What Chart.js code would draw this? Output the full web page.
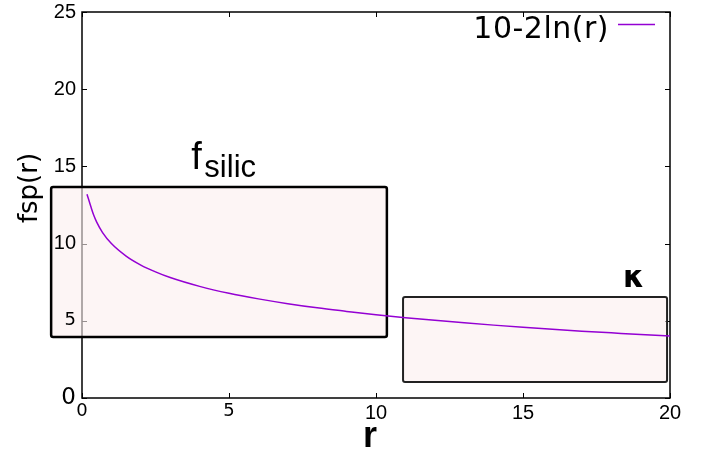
<!DOCTYPE html>
<html>
<head>
<meta charset="utf-8">
<script src="https://cdn.jsdelivr.net/npm/chart.js@4.4.1/dist/chart.umd.min.js"></script>
<style>
  body { margin: 0; background: #fff; }
  #wrap { width: 702px; height: 450px; }
</style>
</head>
<body>
<div id="wrap"><canvas id="myChart" width="702" height="450"></canvas></div>
<script>
// values
var rValues = [0.17, 0.3, 0.4, 0.5, 0.7, 1, 1.5, 2, 2.5, 3, 4, 5, 6, 7, 8, 9, 10, 11, 12, 13, 14, 15, 16, 17, 18, 19, 20];
var fspValues = [13.2, 12.4, 11.83, 11.39, 10.71, 10.0, 9.19, 8.61, 8.17, 7.8, 7.23, 6.78, 6.42, 6.11, 5.84, 5.61, 5.39, 5.2, 5.03, 4.87, 4.72, 4.58, 4.45, 4.33, 4.22, 4.11, 4.01];
var seriesLabel = '10-2ln(r)';
var xTicks = [0, 5, 10, 15, 20];
var yTicks = [0, 5, 10, 15, 20, 25];

// shaded boxes, in data units: [xFrom, xTo, yFrom, yTo]
var boxSilic = [-1.05, 10.37, 3.95, 13.67];
var boxKappa = [10.92, 19.9, 1.04, 6.54];

var purple = '#9400d3';
var sans = '"Liberation Sans", sans-serif';
var dejavu = '"DejaVu Sans", sans-serif';

function tickFont(v) {
    if (v === 0 || v === 5) return { family: dejavu, size: 18 };
    return { family: sans, size: 20 };
}

var decor = {
    id: 'decor',
    // frame, ticks and boxes go under the tick labels
    beforeDraw: function (chart) {
        var ctx = chart.ctx, a = chart.chartArea;
        var x = chart.scales.x, y = chart.scales.y;
        ctx.save();
        ctx.strokeStyle = '#000';
        ctx.lineWidth = 1.5;
        ctx.strokeRect(a.left, a.top, a.right - a.left, a.bottom - a.top);
        ctx.lineWidth = 1;
        ctx.beginPath();
        xTicks.forEach(function (v) {
            var px = Math.round(x.getPixelForValue(v)) + 0.5;
            ctx.moveTo(px, a.bottom); ctx.lineTo(px, a.bottom - 5);
            ctx.moveTo(px, a.top); ctx.lineTo(px, a.top + 5);
        });
        yTicks.forEach(function (v) {
            var py = Math.round(y.getPixelForValue(v)) + 0.5;
            ctx.moveTo(a.left, py); ctx.lineTo(a.left + 5, py);
            ctx.moveTo(a.right, py); ctx.lineTo(a.right - 5, py);
        });
        ctx.stroke();

        function box(b, lw, col) {
            var x0 = x.getPixelForValue(b[0]), x1 = x.getPixelForValue(b[1]);
            var y0 = y.getPixelForValue(b[3]), y1 = y.getPixelForValue(b[2]);
            ctx.beginPath();
            ctx.roundRect(x0, y0, x1 - x0, y1 - y0, 2);
            ctx.fillStyle = 'rgba(251, 238, 238, 0.6)';
            ctx.fill();
            ctx.lineWidth = lw;
            ctx.strokeStyle = col;
            ctx.stroke();
        }
        box(boxSilic, 2.5, '#000');
        box(boxKappa, 2, '#222');
        ctx.restore();
    },
    afterDraw: function (chart) {
        var ctx = chart.ctx;
        var x = chart.scales.x, y = chart.scales.y;
        ctx.save();
        ctx.fillStyle = '#000';
        ctx.textBaseline = 'alphabetic';

        // legend: text first, then the line sample
        ctx.font = '30px ' + dejavu;
        ctx.textAlign = 'right';
        ctx.letterSpacing = '0.5px';
        ctx.fillText(chart.data.datasets[0].label, 609, 38);
        ctx.letterSpacing = '0px';
        ctx.strokeStyle = purple;
        ctx.lineWidth = 1.5;
        ctx.beginPath();
        ctx.moveTo(618, 24.5); ctx.lineTo(655, 24.5);
        ctx.stroke();

        // annotations
        ctx.textAlign = 'left';
        var fx = x.getPixelForValue(3.72), fy = y.getPixelForValue(14.83);
        ctx.font = '38px ' + sans;
        ctx.fillText('f', fx, fy);
        ctx.font = '31px ' + sans;
        ctx.fillText('silic', fx + 13, fy + 8);

        ctx.font = 'bold 30px ' + dejavu;
        ctx.fillText('κ', x.getPixelForValue(18.4), y.getPixelForValue(7.18));

        // axis titles
        ctx.textAlign = 'center';
        ctx.font = 'bold 36px ' + sans;
        ctx.fillText('r', 370, 447);

        ctx.translate(30, 188);
        ctx.rotate(-Math.PI / 2);
        ctx.textBaseline = 'middle';
        ctx.font = '26px ' + dejavu;
        ctx.fillText('fsp(r)', 0, 0);
        ctx.restore();
    }
};

var points = rValues.map(function (r, i) { return { x: r, y: fspValues[i] }; });

var chart = new Chart(document.getElementById('myChart'), {
    type: 'line',
    data: {
        datasets: [{
            label: seriesLabel,
            data: points,
            borderColor: purple,
            borderWidth: 1.5,
            pointRadius: 0,
            fill: false,
            cubicInterpolationMode: 'monotone'
        }]
    },
    options: {
        responsive: false,
        animation: false,
        layout: { padding: { left: 0, right: 32, top: 12, bottom: 0 } },
        plugins: {
            legend: { display: false },
            tooltip: { enabled: false }
        },
        scales: {
            x: {
                type: 'linear',
                min: 0, max: 20,
                afterBuildTicks: function (s) { s.ticks = xTicks.map(function (v) { return { value: v }; }); },
                afterFit: function (s) { s.height = 52; s.paddingLeft = 0; s.paddingRight = 0; },
                grid: { display: false, drawTicks: false },
                border: { display: false },
                ticks: {
                    padding: 3,
                    color: '#000',
                    maxRotation: 0,
                    font: function (c) { return tickFont(c.tick ? c.tick.value : 1); }
                }
            },
            y: {
                min: 0, max: 25,
                afterBuildTicks: function (s) { s.ticks = yTicks.map(function (v) { return { value: v }; }); },
                afterFit: function (s) { s.width = 82; s.paddingTop = 0; s.paddingBottom = 0; },
                grid: { display: false, drawTicks: false },
                border: { display: false },
                ticks: {
                    padding: 6,
                    color: '#000',
                    font: function (c) {
                        var v = c.tick ? c.tick.value : 1;
                        if (v === 0) return { family: dejavu, size: 23 };
                        return tickFont(v);
                    }
                }
            }
        }
    },
    plugins: [decor]
});
</script>
</body>
</html>
